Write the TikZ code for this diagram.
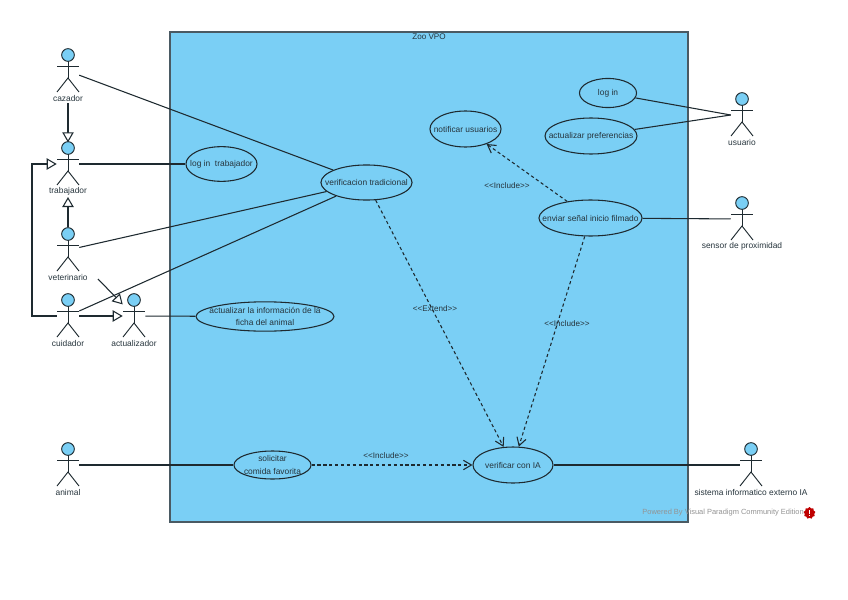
\documentclass[tikz,border=0pt]{standalone}
\usepackage{fontspec}
\setmainfont{Liberation Sans}
\usetikzlibrary{arrows.meta,shapes.geometric}
\definecolor{zoofill}{HTML}{7ACFF5}
\definecolor{zooline}{HTML}{4A5A63}
\definecolor{inkline}{HTML}{1E2A30}
\definecolor{inktext}{HTML}{26343C}
\tikzset{
	actorbox/.style={inner sep=0pt,minimum width=16.5pt,minimum height=32pt},
	actorhead/.style={circle,draw=inkline,fill=zoofill,line width=0.7pt,inner sep=0pt,minimum size=9.5pt},
	actorline/.style={draw=inkline,line width=0.7pt},
	actorlabel/.style={text=inktext,font=\fontsize{6.3}{7.5}\selectfont,inner sep=1pt},
	usecase/.style={ellipse,draw=inkline,line width=0.8pt,inner xsep=-12pt,inner ysep=-4pt,align=center,text=inktext,font=\fontsize{6.3}{9.5}\selectfont},
	assoc/.style={draw=inkline,line width=0.8pt},
	genline/.style={draw=inkline,line width=0.8pt,-{Triangle[open,length=7.5pt,width=8.5pt,fill=white]}},
	depline/.style={draw=inkline,line width=0.8pt,dash pattern=on 2.4pt off 2pt,-{Straight Barb[length=6pt,width=7pt]}},
	deplabel/.style={text=inktext,font=\fontsize{6.1}{7}\selectfont,inner sep=0pt}
}
\begin{document}
\begin{tikzpicture}[x=0.75pt,y=-0.75pt]
		\useasboundingbox (0,0) rectangle (848,599);
		\node[draw=zooline,fill=zoofill,line width=1pt,inner sep=0pt,minimum width=388.5pt,minimum height=367.5pt] (zoo) at (429,277) {};
		\node[deplabel] (zootitle) at (429,36.5) {Zoo VPO};
		% actores
		\foreach \name/\x/\y/\txt in {cazador/68/55/cazador,trabajador/68/148/trabajador,veterinario/68/234/veterinario,cuidador/68/300/cuidador,actualizador/134/300/actualizador,animal/68/449/animal,usuario/742/99/usuario,sensor/742/203/sensor de proximidad,sistema/751/449/sistema informatico externo IA} {
			\node[actorbox] (\name) at (\x,\y+16) {};
			\draw[actorline] (\x,\y+6) -- (\x,\y+23);
			\draw[actorline] (\x-11,\y+11) -- (\x+11,\y+11);
			\draw[actorline] (\x-11,\y+37) -- (\x,\y+23) -- (\x+11,\y+37);
			\node[actorhead] (\name-head) at (\x,\y) {};
			\node[actorlabel] (\name-label) at (\x,\y+43.5) {\txt};
		}
		% casos de uso
		\begin{scope}[every node/.style={usecase}]
			\node[minimum width=53.3pt,minimum height=26pt] (logintrab) at (221.5,164) {log in~~trabajador};
			\node[minimum width=68.3pt,minimum height=26.3pt] (verificacion) at (366.5,182.5) {verificacion tradicional};
			\node[minimum width=103.5pt,minimum height=22pt] (actualizarinfo) at (265,316.5) {actualizar la información de la\\ficha del animal};
			\node[minimum width=57.8pt,minimum height=21pt] (solicitar) at (272.5,465) {solicitar\\comida favorita};
			\node[minimum width=60pt,minimum height=27pt] (verificar) at (513,465) {verificar con IA};
			\node[minimum width=53.3pt,minimum height=27pt] (notificar) at (465.5,129) {notificar usuarios};
			\node[minimum width=42.8pt,minimum height=21.8pt] (login) at (608,93) {log in};
			\node[minimum width=69pt,minimum height=27pt] (preferencias) at (591,136) {actualizar preferencias};
			\node[minimum width=77.3pt,minimum height=27pt] (enviar) at (590.5,218) {enviar señal inicio filmado};
		\end{scope}
		% asociaciones
		\foreach \from/\to in {cazador/verificacion,veterinario/verificacion,cuidador/verificacion,trabajador/logintrab,actualizador/actualizarinfo,animal/solicitar,login/usuario.west,preferencias/usuario.west,enviar/sensor,verificar/sistema}
			\draw[assoc] (\from) -- (\to);
		% generalizaciones
		\coordinate (vetend) at (98,279);
		\draw[genline] (cazador-label) -- (trabajador);
		\draw[genline] (veterinario-head) -- (trabajador-label);
		\draw[genline] (vetend) -- (actualizador);
		\draw[genline] (cuidador) -- (actualizador);
		\draw[genline] (cuidador.west) -- (32,316) -- (32,164) -- (trabajador.west);
		% dependencias
		\path[depline] (enviar) edge (notificar);
		\path[depline] (enviar) edge (verificar);
		\path[depline] (verificacion) edge (verificar);
		\path[depline] (solicitar) edge (verificar);
		\begin{scope}[every node/.style={deplabel}]
			\node (incnotificar) at (507,186) {<{}<Include>{}>};
			\node (extverificar) at (435,309) {<{}<Extend>{}>};
			\node (incenviar) at (567,324) {<{}<Include>{}>};
			\node (incsolicitar) at (386,456) {<{}<Include>{}>};
		\end{scope}
		\node[text=gray!85,font=\fontsize{5.6}{7}\selectfont,inner sep=0pt,anchor=east] (powered) at (804,513) {Powered By Visual Paradigm Community Edition};
		\node[star,star points=9,star point ratio=1.25,fill=red!75!black,inner sep=0pt,minimum size=9pt] (badge) at (809.5,513) {};
		\draw[white,line width=0.7pt] (809.5,510) -- (809.5,514) (809.5,515) -- (809.5,516);
	\end{tikzpicture}
\end{document}
